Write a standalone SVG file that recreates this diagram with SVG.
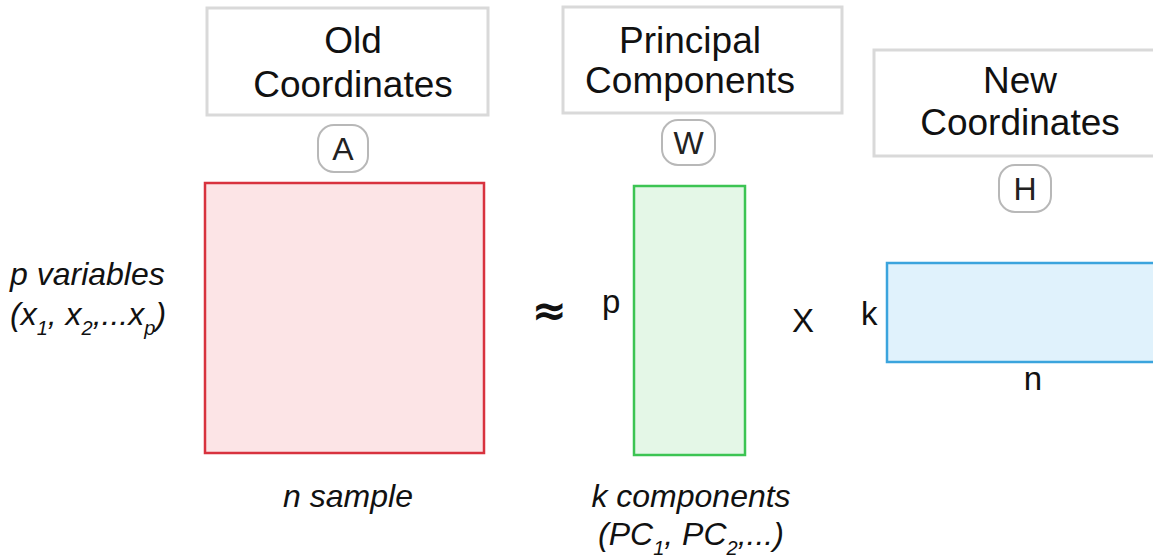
<svg xmlns="http://www.w3.org/2000/svg" width="1153" height="560" viewBox="0 0 1153 560">
<defs>
<style>
.title{font-family:"Liberation Sans",Arial,sans-serif;font-size:37px;fill:#111;text-anchor:middle}
.tbox{fill:#fff;stroke:#d9d9d9;stroke-width:3}
.badge{fill:#fff;stroke:#b8b8b8;stroke-width:2}
.bl{font-family:"Liberation Sans",Arial,sans-serif;font-size:32px;fill:#222;text-anchor:middle}
.lab{font-family:"Liberation Sans",Arial,sans-serif;font-size:33px;fill:#111}
.it{font-family:"Liberation Sans",Arial,sans-serif;font-size:32px;font-style:italic;fill:#111}
.sub{font-size:20px}
</style>
</defs>
<rect width="1153" height="560" fill="#fff"/>

<g id="old-coordinates">
<rect class="tbox" x="207" y="8" width="281" height="107"/>
<text class="title" x="353" y="53">Old</text>
<text class="title" x="353" y="97">Coordinates</text>
</g>
<g id="principal-components">
<rect class="tbox" x="563" y="7" width="279" height="106"/>
<text class="title" x="690" y="53">Principal</text>
<text class="title" x="690" y="93">Components</text>
</g>
<g id="new-coordinates">
<rect class="tbox" x="874" y="50" width="300" height="106"/>
<text class="title" x="1020" y="93">New</text>
<text class="title" x="1020" y="135">Coordinates</text>
</g>

<g id="badge-A">
<rect class="badge" x="318" y="125" width="50" height="47" rx="16"/>
<text class="bl" x="343" y="160">A</text>
</g>
<g id="badge-W">
<rect class="badge" x="662" y="120" width="53" height="45" rx="16"/>
<text class="bl" x="688.5" y="154">W</text>
</g>
<g id="badge-H">
<rect class="badge" x="999" y="165" width="52" height="47" rx="16"/>
<text class="bl" x="1025" y="200">H</text>
</g>

<g id="matrix-A">
<rect x="205" y="183" width="279" height="270" fill="#fce4e6" stroke="#d8323e" stroke-width="2.5"/>
</g>
<g id="matrix-W">
<rect x="634" y="186" width="111" height="269" fill="#e4f7e7" stroke="#3cc453" stroke-width="2.5"/>
</g>
<g id="matrix-H">
<rect x="887" y="263" width="300" height="99" fill="#e0f2fc" stroke="#3ba4dd" stroke-width="2.5"/>
</g>

<g id="labels">
<text class="it" x="10" y="285">p variables</text>
<text class="it" x="10" y="325">(x<tspan class="sub" dy="10">1</tspan><tspan dy="-10">, x</tspan><tspan class="sub" dy="10">2</tspan><tspan dy="-10">,...x</tspan><tspan class="sub" dy="10">p</tspan><tspan dy="-10">)</tspan></text>
<text x="549" y="325" text-anchor="middle" font-family="'DejaVu Sans',sans-serif" font-size="42" font-weight="bold" fill="#111">≈</text>
<text class="lab" x="602" y="313">p</text>
<text class="lab" x="803" y="332" text-anchor="middle">X</text>
<text class="lab" x="861" y="325">k</text>
<text class="lab" x="1033" y="390" text-anchor="middle">n</text>
<text class="it" x="348" y="507" text-anchor="middle">n sample</text>
<text class="it" x="691" y="507" text-anchor="middle">k components</text>
<text class="it" x="691" y="545" text-anchor="middle">(PC<tspan class="sub" dy="10">1</tspan><tspan dy="-10">, PC</tspan><tspan class="sub" dy="10">2</tspan><tspan dy="-10">,...)</tspan></text>
</g>
</svg>
